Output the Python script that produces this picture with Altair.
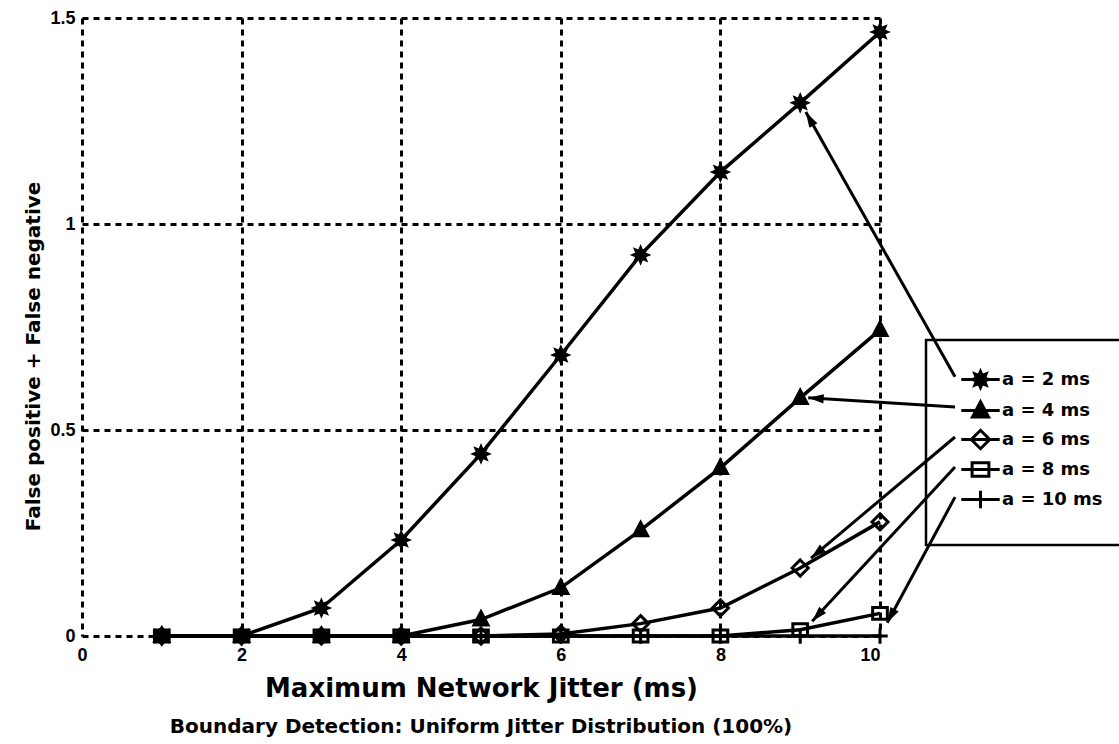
import math
import altair as alt
import pandas as pd

# ---------------- data ----------------
jitter = [1, 2, 3, 4, 5, 6, 7, 8, 9, 10]
series_names = ["a = 2 ms", "a = 4 ms", "a = 6 ms", "a = 8 ms", "a = 10 ms"]
a2 = [0.0, 0.0, 0.068, 0.233, 0.442, 0.682, 0.925, 1.126, 1.294, 1.466]
a4 = [0.0, 0.0, 0.0, 0.0, 0.04, 0.117, 0.257, 0.408, 0.578, 0.743]
a6 = [0.0, 0.0, 0.0, 0.0, 0.0, 0.005, 0.03, 0.068, 0.165, 0.277]
a8 = [0.0, 0.0, 0.0, 0.0, 0.0, 0.0, 0.0, 0.0, 0.015, 0.055]
a10 = [0.0, 0.0, 0.0, 0.0, 0.0, 0.0, 0.0, 0.0, 0.0, 0.0]
series_values = [a2, a4, a6, a8, a10]

x_ticks = [0, 2, 4, 6, 8, 10]
y_ticks = [0, 0.5, 1, 1.5]

# leader lines from legend entries to the curves (data units)
leader_from_x = [10.94, 10.94, 10.94, 10.94, 10.94]
leader_from_y = [0.629, 0.556, 0.483, 0.410, 0.337]
leader_to_x = [9.07, 9.10, 9.135, 9.15, 10.09]
leader_to_y = [1.272, 0.578, 0.189, 0.036, 0.032]

# ---------------- layout ----------------
W, H = 798, 618
X_DOM = [0, 10]
Y_DOM = [0, 1.5]
sx = W / (X_DOM[1] - X_DOM[0])
sy = H / (Y_DOM[1] - Y_DOM[0])

rows = []
for s, vals in zip(series_names, series_values):
    for x, v in zip(jitter, vals):
        rows.append({"jitter": x, "value": v, "series": s})
df = pd.DataFrame(rows)

lead_rows = []
for fx, fy, tx, ty in zip(leader_from_x, leader_from_y, leader_to_x, leader_to_y):
    dx = (tx - fx) * sx
    dy = -(ty - fy) * sy
    ang = math.degrees(math.atan2(dx, -dy)) % 360
    lead_rows.append({"jitter": fx, "value": fy, "jitter2": tx, "value2": ty,
                      "tipx": tx, "tipy": ty, "angle": ang})
df_lead = pd.DataFrame(lead_rows)
df_tip = df_lead[["tipx", "tipy", "angle"]].rename(columns={"tipx": "jitter", "tipy": "value"})

# marker paths (unit box)
star_pts = []
for k in range(16):
    r = 1.0 if k % 2 == 0 else 0.55
    a = math.pi * k / 8
    star_pts.append(f"{r * math.sin(a):.3f},{-r * math.cos(a):.3f}")
asterisk = "M" + "L".join(star_pts) + "Z"
triangle = "M0,-1.1L1,0.8L-1,0.8Z"
diamond = "M0,-1.15L1.15,0L0,1.15L-1.15,0Z"
square = "M-1.05,-0.85L1.05,-0.85L1.05,0.85L-1.05,0.85Z"
plus = "M-1.1,0L1.1,0M0,-1.1L0,1.1"
point_paths = [asterisk, triangle, diamond, square, plus]
stub = "M-2.4,0L2.4,0"
legend_paths = [p + stub for p in point_paths]
fills = ["black", "black", "transparent", "transparent", "transparent"]
strokes = ["black"] * 5

FONT_T = "DejaVu Sans"
FONT_L = "Liberation Sans"

X = alt.X("jitter:Q",
          scale=alt.Scale(domain=X_DOM, nice=False, zero=False),
          axis=alt.Axis(values=x_ticks, title="Maximum Network Jitter (ms)",
                        grid=True, domain=False, ticks=False,
                        labelAlign={"condition": {"test": "datum.value == 10", "value": "right"},
                                    "value": "center"},
                        labelPadding=10, titlePadding=11))
Y = alt.Y("value:Q",
          scale=alt.Scale(domain=Y_DOM, nice=False),
          axis=alt.Axis(values=y_ticks, format="~g",
                        title="False positive + False negative",
                        grid=True, domain=False, ticks=False,
                        labelPadding=7, titlePadding=6, titleY=338))

lines = alt.Chart(df).mark_line(color="black", strokeWidth=3.5).encode(
    x=X, y=Y, detail="series:N", order="jitter:Q")

points = alt.Chart(df).mark_point(size=196, strokeWidth=3, stroke="black", opacity=1).encode(
    x=X, y=Y,
    shape=alt.Shape("series:N", scale=alt.Scale(domain=series_names, range=point_paths), legend=None),
    fill=alt.Fill("series:N", scale=alt.Scale(domain=series_names, range=fills), legend=None),
)

leaders = alt.Chart(df_lead).mark_rule(color="black", strokeWidth=3).encode(
    x=X, y=Y, x2="jitter2:Q", y2="value2:Q")

heads = alt.Chart(df_tip).mark_point(
    shape="M0,0L0.6,2L-0.6,2Z", size=240, filled=True, color="black", opacity=1
).encode(x=X, y=Y, angle=alt.Angle("angle:Q", scale=None))

leg = alt.Legend(title=None, orient="none", legendX=844, legendY=322,
                 labelFont=FONT_T, labelFontWeight="bold", labelFontSize=18,
                 labelColor="black", symbolSize=256, symbolStrokeWidth=3,
                 symbolStrokeColor="black", padding=30, labelOffset=12,
                 rowPadding=1, strokeColor="black", symbolOffset=15)

legend_layer = alt.Chart(df).mark_point(size=256, strokeWidth=3, opacity=1).encode(
    shape=alt.Shape("series:N", scale=alt.Scale(domain=series_names, range=legend_paths), legend=leg),
    fill=alt.Fill("series:N", scale=alt.Scale(domain=series_names, range=fills), legend=leg),
    stroke=alt.Stroke("series:N", scale=alt.Scale(domain=series_names, range=strokes), legend=leg),
).transform_filter("false")

chart = alt.layer(lines, points, leaders, heads, legend_layer).resolve_scale(
    shape="independent", fill="independent", stroke="independent"
).properties(
    width=W, height=H,
    background="white",
    autosize=alt.AutoSizeParams(type="none"),
    padding={"left": 82, "top": 18, "right": 239, "bottom": 108},
    title=alt.Title("Boundary Detection:  Uniform Jitter Distribution (100%)",
                    orient="bottom", anchor="middle", font=FONT_T, fontWeight="bold",
                    fontSize=20, color="black", offset=16),
).configure_view(stroke=None).configure_axis(
    gridColor="black", gridOpacity=1, gridWidth=3, gridDash=[6, 5],
    labelFont=FONT_L, labelFontWeight="bold", labelFontSize=18, labelColor="black",
    titleFont=FONT_T, titleFontWeight="bold", titleColor="black",
).configure_axisX(titleFontSize=26).configure_axisY(titleFontSize=20).configure_legend(
    strokeWidth=2.5
)

chart.save("out.html", embed_options={"renderer": "svg", "actions": False})
